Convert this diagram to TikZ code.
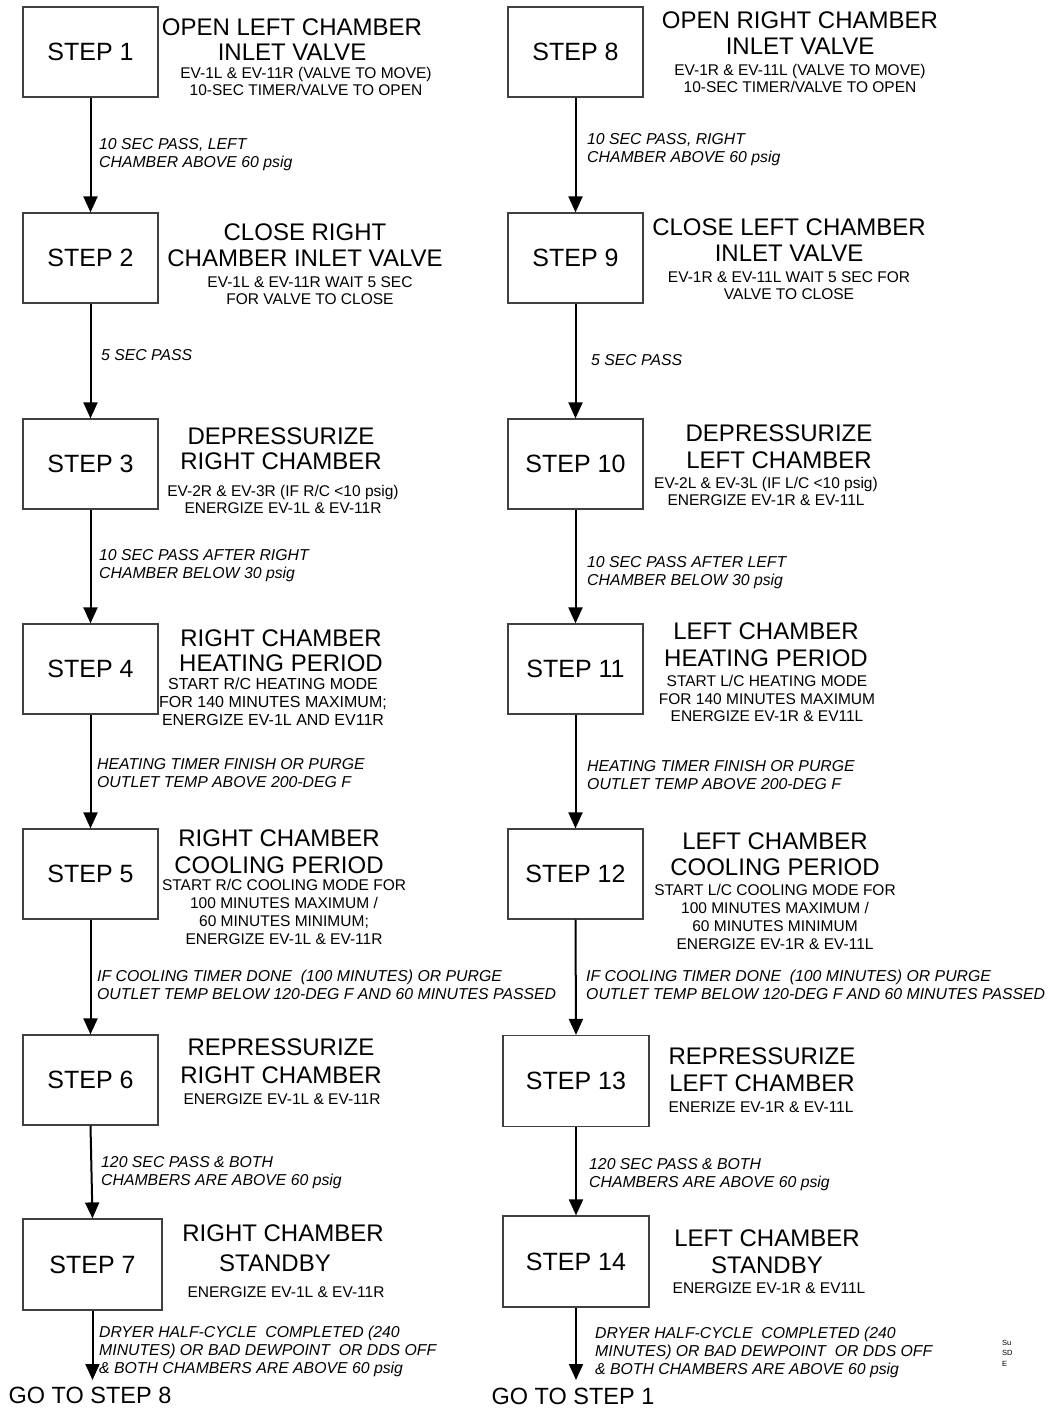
\documentclass[tikz,border=0pt]{standalone}
\usepackage{fontspec}
\setmainfont{Liberation Sans}
\usetikzlibrary{arrows.meta}
\begin{document}
\begin{tikzpicture}[x=1pt,y=-1pt,
  stepbox/.style={draw=black!75, line width=1.2pt, minimum width=135pt, minimum height=90pt, inner sep=0pt, font=\fontsize{25}{30}\selectfont},
  ttl/.style={align=center, inner sep=0pt, font=\fontsize{24}{26}\selectfont},
  det/.style={align=center, inner sep=0pt, font=\fontsize{15.5}{17}\selectfont},
  lbl/.style={align=left, anchor=west, inner sep=0pt, font=\fontsize{15.8}{18}\selectfont\itshape},
  goto/.style={inner sep=0pt, font=\fontsize{23.5}{28}\selectfont},
  arr/.style={line width=2pt, -{Triangle[length=16pt,width=14pt]}}]
\fill[white] (0,0) rectangle (1049,1412);
\useasboundingbox (0,0) rectangle (1049,1412);

% ---------- left column boxes ----------
\node[stepbox] (b1) at (90.5,52) {STEP 1};
\node[stepbox] (b2) at (90.5,258) {STEP 2};
\node[stepbox] (b3) at (90.5,464) {STEP 3};
\node[stepbox] (b4) at (90.5,669) {STEP 4};
\node[stepbox] (b5) at (90.5,874) {STEP 5};
\node[stepbox] (b6) at (90.5,1080) {STEP 6};
\node[stepbox, minimum width=139pt, minimum height=91pt] (b7) at (92.5,1264.5) {STEP 7};

% ---------- right column boxes ----------
\node[stepbox] (b8) at (575.5,52) {STEP 8};
\node[stepbox] (b9) at (575.5,258) {STEP 9};
\node[stepbox] (b10) at (575.5,464) {STEP 10};
\node[stepbox] (b11) at (575.5,669) {STEP 11};
\node[stepbox] (b12) at (575.5,874) {STEP 12};
\node[stepbox, minimum width=146pt, minimum height=91pt] (b13) at (576,1081) {STEP 13};
\node[stepbox, minimum width=146pt, minimum height=91pt] (b14) at (576,1261.5) {STEP 14};

% ---------- left titles and details ----------
\node[ttl, font=\fontsize{24}{25}\selectfont] (t1) at (292,39.5) {OPEN LEFT CHAMBER\\INLET VALVE};
\node[det] (d1) at (306,81) {EV-1L \& EV-11R (VALVE TO MOVE)\\10-SEC TIMER/VALVE TO OPEN};
\node[ttl] (t2) at (305,245) {CLOSE RIGHT\\CHAMBER INLET VALVE};
\node[det] (d2) at (310,290.5) {EV-1L \& EV-11R WAIT 5 SEC\\FOR VALVE TO CLOSE};
\node[ttl, font=\fontsize{24}{25}\selectfont] (t3) at (281,448.5) {DEPRESSURIZE\\RIGHT CHAMBER};
\node[det] (d3) at (283,499.5) {EV-2R \& EV-3R (IF R/C <10 psig)\\ENERGIZE EV-1L \& EV-11R};
\node[ttl, font=\fontsize{24}{25}\selectfont] (t4) at (281,650.5) {RIGHT CHAMBER\\HEATING PERIOD};
\node[det, font=\fontsize{16}{18}\selectfont] (d4) at (273,702) {START R/C HEATING MODE\\FOR 140 MINUTES MAXIMUM;\\ENERGIZE EV-1L AND EV11R};
\node[ttl, font=\fontsize{24}{27}\selectfont] (t5) at (279,852) {RIGHT CHAMBER\\COOLING PERIOD};
\node[det, font=\fontsize{15.5}{18}\selectfont] (d5) at (284,912) {START R/C COOLING MODE FOR\\100 MINUTES MAXIMUM /\\60 MINUTES MINIMUM;\\ENERGIZE EV-1L \& EV-11R};
\node[ttl, font=\fontsize{24}{28}\selectfont] (t6) at (281,1061) {REPRESSURIZE\\RIGHT CHAMBER};
\node[det] (d6) at (282,1099) {ENERGIZE EV-1L \& EV-11R};
\node[ttl, font=\fontsize{24}{30}\selectfont] (t7) at (283,1248) {RIGHT CHAMBER\\STANDBY\hspace*{16pt}};
\node[det] (d7) at (286,1292) {ENERGIZE EV-1L \& EV-11R};

% ---------- right titles and details ----------
\node[ttl] (t8) at (800,33) {OPEN RIGHT CHAMBER\\INLET VALVE};
\node[det] (d8) at (800,78.5) {EV-1R \& EV-11L (VALVE TO MOVE)\\10-SEC TIMER/VALVE TO OPEN};
\node[ttl] (t9) at (789,240) {CLOSE LEFT CHAMBER\\INLET VALVE};
\node[det] (d9) at (789,286) {EV-1R \& EV-11L WAIT 5 SEC FOR\\VALVE TO CLOSE};
\node[ttl, font=\fontsize{24}{27}\selectfont] (t10) at (779,446.5) {DEPRESSURIZE\\LEFT CHAMBER};
\node[det] (d10) at (766,491.5) {EV-2L \& EV-3L (IF L/C <10 psig)\\ENERGIZE EV-1R \& EV-11L};
\node[ttl, font=\fontsize{24}{27}\selectfont] (t11) at (766,644.5) {LEFT CHAMBER\\HEATING PERIOD};
\node[det, font=\fontsize{15.5}{17.5}\selectfont] (d11) at (767,698.5) {START L/C HEATING MODE\\FOR 140 MINUTES MAXIMUM\\ENERGIZE EV-1R \& EV11L};
\node[ttl] (t12) at (775,854) {LEFT CHAMBER\\COOLING PERIOD};
\node[det, font=\fontsize{15.5}{18}\selectfont] (d12) at (775,917) {START L/C COOLING MODE FOR\\100 MINUTES MAXIMUM /\\60 MINUTES MINIMUM\\ENERGIZE EV-1R \& EV-11L};
\node[ttl, font=\fontsize{24}{27}\selectfont] (t13) at (762,1069.5) {REPRESSURIZE\\LEFT CHAMBER};
\node[det] (d13) at (761,1107) {ENERIZE EV-1R \& EV-11L};
\node[ttl, font=\fontsize{24}{27}\selectfont] (t14) at (767,1251.5) {LEFT CHAMBER\\STANDBY};
\node[det] (d14) at (769,1288) {ENERGIZE EV-1R \& EV11L};

% ---------- connector labels ----------
\node[lbl] (l1) at (99,155) {10 SEC PASS, LEFT\\CHAMBER ABOVE 60 psig};
\node[lbl] (l2) at (101,355) {5 SEC PASS};
\node[lbl] (l3) at (99,566) {10 SEC PASS AFTER RIGHT\\CHAMBER BELOW 30 psig};
\node[lbl] (l4) at (97,773.5) {HEATING TIMER FINISH OR PURGE\\OUTLET TEMP ABOVE 200-DEG F};
\node[lbl] (l5) at (97,985) {IF COOLING TIMER DONE\ \ (100 MINUTES) OR PURGE\\OUTLET TEMP BELOW 120-DEG F AND 60 MINUTES PASSED};
\node[lbl] (l6) at (101,1173) {120 SEC PASS \& BOTH\\CHAMBERS ARE ABOVE 60 psig};
\node[lbl] (l7) at (99,1351) {DRYER HALF-CYCLE\ \ COMPLETED (240\\MINUTES) OR BAD DEWPOINT\ \ OR DDS OFF\\\& BOTH CHAMBERS ARE ABOVE 60 psig};

\node[lbl] (l8) at (587,150) {10 SEC PASS, RIGHT\\CHAMBER ABOVE 60 psig};
\node[lbl] (l9) at (591,360) {5 SEC PASS};
\node[lbl] (l10) at (587,572.5) {10 SEC PASS AFTER LEFT\\CHAMBER BELOW 30 psig};
\node[lbl] (l11) at (587,775.5) {HEATING TIMER FINISH OR PURGE\\OUTLET TEMP ABOVE 200-DEG F};
\node[lbl] (l12) at (586,985) {IF COOLING TIMER DONE\ \ (100 MINUTES) OR PURGE\\OUTLET TEMP BELOW 120-DEG F AND 60 MINUTES PASSED};
\node[lbl] (l13) at (589,1175) {120 SEC PASS \& BOTH\\CHAMBERS ARE ABOVE 60 psig};
\node[lbl] (l14) at (595,1352) {DRYER HALF-CYCLE\ \ COMPLETED (240\\MINUTES) OR BAD DEWPOINT\ \ OR DDS OFF\\\& BOTH CHAMBERS ARE ABOVE 60 psig};

% ---------- end targets ----------
\coordinate (e7) at (92.5,1380);
\coordinate (e14) at (576,1380);
\node[goto] (g7) at (90,1395) {GO TO STEP 8};
\node[goto] (g14) at (573,1396) {GO TO STEP 1};

% ---------- small note ----------
\node[align=left, anchor=west, inner sep=0pt, font=\fontsize{7.5}{10.5}\selectfont] (note) at (1002,1353) {Su\\SD\\E};

% ---------- connectors ----------
\draw[arr] (b1.south) -- (b2.north);
\draw[arr] (b2.south) -- (b3.north);
\draw[arr] (b3.south) -- (b4.north);
\draw[arr] (b4.south) -- (b5.north);
\draw[arr] (b5.south) -- (b6.north);
\draw[arr] (b6.south) -- (b7.north);
\draw[arr] (b7.south) -- (e7);
\draw[arr] (b8.south) -- (b9.north);
\draw[arr] (b9.south) -- (b10.north);
\draw[arr] (b10.south) -- (b11.north);
\draw[arr] (b11.south) -- (b12.north);
\draw[arr] (b12.south) -- (b13.north);
\draw[arr] (b13.south) -- (b14.north);
\draw[arr] (b14.south) -- (e14);
\end{tikzpicture}
\end{document}
